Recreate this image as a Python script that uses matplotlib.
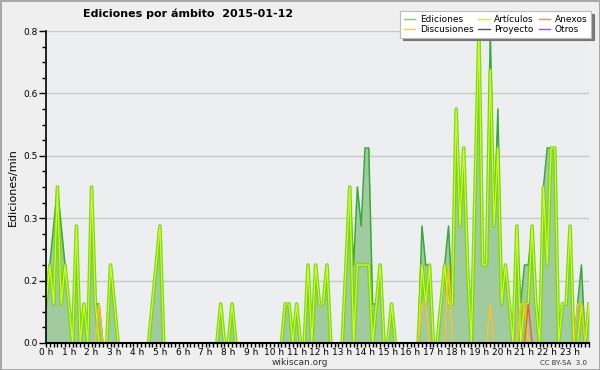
import numpy as np
import matplotlib
matplotlib.use('Agg')
import matplotlib.pyplot as plt
from matplotlib.ticker import FixedLocator, MultipleLocator, FuncFormatter

# datos cada 10 minutos (144 intervalos), ediciones por minuto
ediciones = [
    0.1, 0.2, 0.3, 0.4, 0.3, 0.2, 0.1, 0.0, 0.3, 0.0, 0.1, 0.0,   # 0h - 2h
    0.4, 0.1, 0.1, 0.0, 0.0, 0.2, 0.1, 0.0, 0.0, 0.0, 0.0, 0.0,   # 2h - 4h
    0.0, 0.0, 0.0, 0.0, 0.1, 0.2, 0.3, 0.0, 0.0, 0.0, 0.0, 0.0,   # 4h - 6h
    0.0, 0.0, 0.0, 0.0, 0.0, 0.0, 0.0, 0.0, 0.0, 0.0, 0.1, 0.0,   # 6h - 8h
    0.0, 0.1, 0.0, 0.0, 0.0, 0.0, 0.0, 0.0, 0.0, 0.0, 0.0, 0.0,   # 8h - 10h
    0.0, 0.0, 0.0, 0.1, 0.1, 0.0, 0.1, 0.0, 0.0, 0.2, 0.0, 0.2,   # 10h - 12h
    0.1, 0.1, 0.2, 0.0, 0.0, 0.0, 0.0, 0.2, 0.4, 0.2, 0.4, 0.3,   # 12h - 14h
    0.5, 0.5, 0.1, 0.1, 0.2, 0.0, 0.0, 0.1, 0.0, 0.0, 0.0, 0.0,   # 14h - 16h
    0.0, 0.0, 0.0, 0.3, 0.2, 0.2, 0.0, 0.0, 0.1, 0.2, 0.3, 0.1,   # 16h - 18h
    0.6, 0.3, 0.5, 0.2, 0.0, 0.4, 0.8, 0.2, 0.2, 0.8, 0.3, 0.6,   # 18h - 20h
    0.1, 0.2, 0.1, 0.0, 0.3, 0.1, 0.2, 0.2, 0.3, 0.1, 0.0, 0.4,   # 20h - 22h
    0.5, 0.5, 0.5, 0.0, 0.1, 0.1, 0.3, 0.0, 0.1, 0.2, 0.0, 0.1,   # 22h - 24h
]
articulos = [
    0.1, 0.2, 0.1, 0.4, 0.1, 0.2, 0.1, 0.0, 0.3, 0.0, 0.1, 0.0,
    0.4, 0.1, 0.0, 0.0, 0.0, 0.2, 0.1, 0.0, 0.0, 0.0, 0.0, 0.0,
    0.0, 0.0, 0.0, 0.0, 0.1, 0.2, 0.3, 0.0, 0.0, 0.0, 0.0, 0.0,
    0.0, 0.0, 0.0, 0.0, 0.0, 0.0, 0.0, 0.0, 0.0, 0.0, 0.1, 0.0,
    0.0, 0.1, 0.0, 0.0, 0.0, 0.0, 0.0, 0.0, 0.0, 0.0, 0.0, 0.0,
    0.0, 0.0, 0.0, 0.1, 0.1, 0.0, 0.1, 0.0, 0.0, 0.2, 0.0, 0.2,
    0.1, 0.1, 0.2, 0.0, 0.0, 0.0, 0.0, 0.2, 0.4, 0.0, 0.2, 0.2,
    0.2, 0.2, 0.0, 0.1, 0.2, 0.0, 0.0, 0.1, 0.0, 0.0, 0.0, 0.0,
    0.0, 0.0, 0.0, 0.2, 0.1, 0.2, 0.0, 0.0, 0.1, 0.2, 0.1, 0.1,
    0.6, 0.3, 0.5, 0.2, 0.0, 0.4, 0.8, 0.2, 0.2, 0.7, 0.3, 0.5,
    0.1, 0.2, 0.1, 0.0, 0.3, 0.0, 0.1, 0.1, 0.3, 0.1, 0.0, 0.4,
    0.2, 0.5, 0.5, 0.0, 0.1, 0.1, 0.3, 0.0, 0.0, 0.1, 0.0, 0.1,
]
discusiones = [0.0] * 144
for i, v in [(14, 0.1), (99, 0.1), (100, 0.1), (106, 0.2), (117, 0.1),
             (125, 0.1), (126, 0.1), (140, 0.1), (141, 0.1)]:
    discusiones[i] = v
anexos = [0.0] * 144
anexos[127] = 0.1

horas = np.arange(144) / 6.0
hora_labels = [f'{h} h' for h in range(24)]
ytick_vals = [0.0, 0.16, 0.32, 0.48, 0.64, 0.8]


def sin_ceros(vals):
    # oculta los tramos planos en cero (no se ven en el original)
    v = np.array(vals, dtype=float)
    nz = v > 0
    vecino = nz.copy()
    vecino[1:] |= nz[:-1]
    vecino[:-1] |= nz[1:]
    return np.where(vecino, v, np.nan)


fig = plt.figure(figsize=(6, 3.7), dpi=100, facecolor='#efefef',
                 edgecolor='#a8a8a8', linewidth=2)
ax = fig.add_axes([0.0767, 0.073, 0.905, 0.8432])
ax.set_facecolor('#eceef0')

# area total
ax.fill_between(horas, ediciones, 0, color='#9fcb9f', lw=0, zorder=2)
ax.plot(horas, sin_ceros(ediciones), color='#3aa83a', lw=1.1, zorder=3)
# articulos con efecto brillo
ax.plot(horas, sin_ceros(articulos), color='#77d411', lw=2.6, zorder=4, alpha=0.9)
ax.plot(horas, sin_ceros(articulos), color='#ccff22', lw=0.9, zorder=5)
ax.plot(horas, sin_ceros(discusiones), color='#ffc21a', lw=1.0, zorder=6)
ax.plot(horas, sin_ceros(anexos), color='#ff5a1a', lw=1.0, zorder=7)

ax.set_xlim(0, 143 / 6.0)
ax.set_ylim(0, 0.8)

ax.yaxis.set_major_locator(FixedLocator(ytick_vals))
ax.yaxis.set_minor_locator(MultipleLocator(0.04))
ax.yaxis.set_major_formatter(FuncFormatter(lambda v, p: f'{v:.1f}'))
ax.set_xticks(range(24))
ax.set_xticklabels(hora_labels)
ax.xaxis.set_minor_locator(MultipleLocator(1 / 6.0))

ax.grid(axis='y', color='#c8c8c8', lw=1, zorder=1)
ax.set_axisbelow(True)
for s in ['top', 'right']:
    ax.spines[s].set_visible(False)
ax.spines['left'].set_linewidth(1.2)
ax.spines['bottom'].set_linewidth(1.5)
ax.spines['bottom'].set_zorder(10)
ax.spines['left'].set_zorder(10)
ax.tick_params(axis='y', which='major', length=5, width=1, labelsize=6.5, pad=1)
ax.tick_params(axis='y', which='minor', length=3, width=1)
ax.tick_params(axis='x', which='major', length=3, width=1, labelsize=6.5, pad=0.5)
ax.tick_params(axis='x', which='minor', length=3, width=1)

fig.text(0.313, 0.962, 'Ediciones por ámbito  2015-01-12', ha='center',
         va='center', fontsize=8, fontweight='bold')
fig.text(0.022, 0.495, 'Ediciones/min', rotation=90, ha='center',
         va='center', fontsize=8)
fig.text(0.5, 0.02, 'wikiscan.org', ha='center', va='center', fontsize=6.5,
         color='#333333')
fig.text(0.978, 0.02, 'CC BY-SA  3.0', ha='right', va='center', fontsize=5,
         color='#333333')

# leyenda
handles = [
    plt.Line2D([], [], color='#7fcc7f', lw=1),
    plt.Line2D([], [], color='#ffcc44', lw=1),
    plt.Line2D([], [], color='#c8ee55', lw=1),
    plt.Line2D([], [], color='#555555', lw=1),
    plt.Line2D([], [], color='#ff8855', lw=1),
    plt.Line2D([], [], color='#9955ee', lw=1),
]
labels = ['Ediciones', 'Discusiones', 'Artículos', 'Proyecto', 'Anexos', 'Otros']
leg = fig.legend(handles, labels, ncol=3, loc='upper right',
                 bbox_to_anchor=(0.985, 0.97), fontsize=6.5, frameon=True,
                 fancybox=False, shadow={'color': '#777777', 'alpha': 1},
                 handlelength=1.3, handletextpad=0.5, columnspacing=0.5,
                 labelspacing=0.15, borderpad=0.4, borderaxespad=0)
leg.get_frame().set_edgecolor('#bbbbbb')
leg.get_frame().set_linewidth(0.8)

fig.savefig('out.png', dpi=100)
